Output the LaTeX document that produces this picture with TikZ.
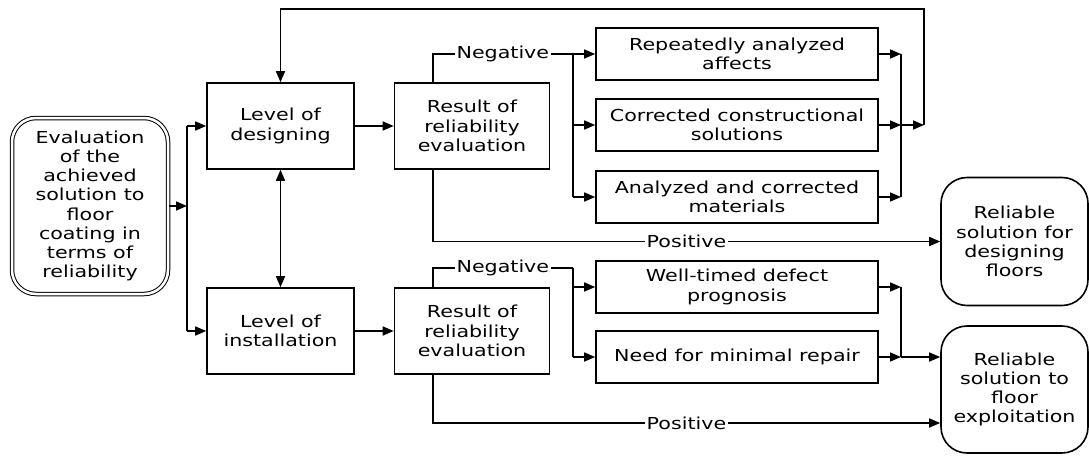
\documentclass[tikz,border=0pt]{standalone}
\usepackage{fontspec}
\setmainfont{DejaVu Sans}[FakeStretch=1.25]
\usetikzlibrary{arrows.meta}
\usetikzlibrary{math}

\begin{document}
\begin{tikzpicture}[x=1pt, y=-1pt,
    txt/.style={font=\fontsize{16.5}{19.2}\selectfont, align=center, inner sep=0pt},
    box/.style={txt, draw, line width=1.6pt, minimum width=155pt, minimum height=86pt},
    widebox/.style={box, minimum width=282pt, minimum height=52pt},
    goal/.style={box, rounded corners=26pt, minimum width=147pt, minimum height=128pt},
    start/.style={txt, draw, double, double distance=2.5pt, line width=1pt,
        rounded corners=24pt, minimum width=156pt, minimum height=176pt},
    link/.style={line width=1.6pt},
    arr/.style={link, -{Triangle[length=11pt,width=9pt]}},
    dblarr/.style={link, {Triangle[length=11pt,width=9pt]}-{Triangle[length=11pt,width=9pt]}},
    tag/.style={txt, fill=white, inner sep=1.5pt}]

\useasboundingbox (0,0) rectangle (1089,455);

% Position settings
\tikzmath{
    \ColLevel = 280.5;
    \ColResult = 472;
    \ColWide = 737;
    \ColGoal = 1014.5;
    \TopPath = 9;
}

% Draws blocks
\node [start] (eval) at (90,206) {Evaluation\\of the\\achieved\\solution to\\floor\\coating in\\terms of\\reliability};
\node [box, minimum width=147pt] (design) at (\ColLevel,126) {Level of\\designing};
\node [box, minimum width=147pt] (install) at (\ColLevel,331) {Level of\\installation};
\node [box] (result1) at (\ColResult,126) {Result of\\reliability\\evaluation};
\node [box] (result2) at (\ColResult,331) {Result of\\reliability\\evaluation};
\node [widebox] (repeated) at (\ColWide,54) {Repeatedly analyzed\\affects};
\node [widebox] (corrected) at (\ColWide,125) {Corrected constructional\\solutions};
\node [widebox] (materials) at (\ColWide,197) {Analyzed and corrected\\materials};
\node [widebox] (prognosis) at (\ColWide,287) {Well-timed defect\\prognosis};
\node [widebox] (repair) at (\ColWide,357) {Need for minimal repair};
\node [goal] (goal1) at (\ColGoal,241.5) {Reliable\\solution for\\designing\\floors};
\node [goal, minimum height=127pt] (goal2) at (\ColGoal,389.5) {Reliable\\solution to\\floor\\exploitation};

% Branch and merge points
\coordinate (fork) at (187,206);
\coordinate (split) at (573,0);
\coordinate (merge) at (901,0);
\coordinate (neg2) at (573,268);
\coordinate (back) at (924,125);
\coordinate (top) at (\ColLevel,\TopPath);

% Draws left part
\draw [arr] (eval.east |- fork) -- (fork);
\draw [link] (fork |- design) -- (fork |- install);
\draw [arr] (fork |- design) -- (design.west);
\draw [arr] (fork |- install) -- (install.west);
\draw [dblarr] (design) -- (install);
\draw [arr] (design) -- (result1);
\draw [arr] (install) -- (result2);

% Upper results
\draw [link] ([xshift=39pt]result1.north west) |- (split |- repeated) node [tag, pos=0.75] {Negative};
\draw [link] (split |- repeated) -- (split |- materials);
\draw [arr] (split |- repeated) -- (repeated.west);
\draw [arr] (split |- corrected) -- (corrected.west);
\draw [arr] (split |- materials) -- (materials.west);
\draw [arr] (repeated.east) -- (merge |- repeated);
\draw [arr] (corrected.east) -- (merge |- corrected);
\draw [arr] (materials.east) -- (merge |- materials);
\draw [link] (merge |- repeated) -- (merge |- materials);
\draw [arr] (merge |- back) -- (back);
\draw [arr] (back) |- (top) -- (design.north);
\draw [arr] ([xshift=39pt]result1.south west) |- (goal1.west) node [tag, pos=0.75] {Positive};

% Lower results
\draw [link] ([xshift=39pt]result2.north west) |- (neg2) node [tag, pos=0.75] {Negative};
\draw [link] (neg2) -- (split |- repair);
\draw [arr] (split |- prognosis) -- (prognosis.west);
\draw [arr] (split |- repair) -- (repair.west);
\draw [arr] (prognosis.east) -- (merge |- prognosis);
\draw [arr] (repair.east) -- (merge |- repair);
\draw [link] (merge |- prognosis) -- (merge |- repair);
\draw [arr] (merge |- repair) -- (goal2.west |- repair);
\draw [arr] ([xshift=39pt]result2.south west) |- ([yshift=-33.5pt]goal2.west) node [tag, pos=0.75] {Positive};

\end{tikzpicture}
\end{document}
